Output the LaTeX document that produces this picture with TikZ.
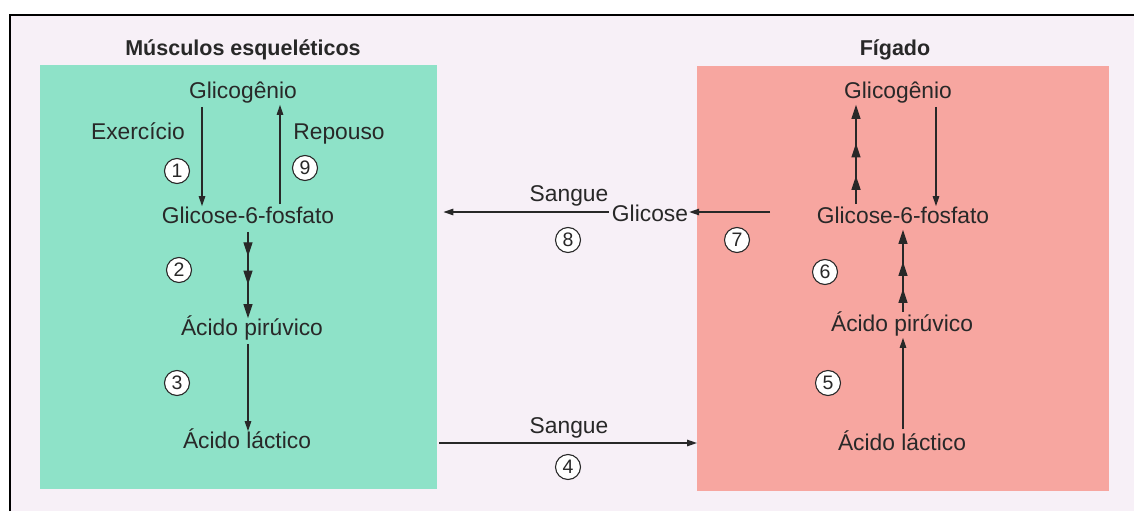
\documentclass[tikz,border=0pt]{standalone}
\usepackage{fontspec}
\setmainfont{Liberation Sans}
\usetikzlibrary{arrows.meta,positioning,decorations.markings}
\definecolor{muscbg}{RGB}{142,226,200}
\definecolor{figbg}{RGB}{247,166,160}
\definecolor{pagebg}{RGB}{247,240,247}
\definecolor{ink}{RGB}{40,40,40}

\begin{document}
\begin{tikzpicture}[x=1pt,y=-1pt,
  txt/.style={inner sep=1pt,text height=16.5pt,text depth=4.8pt,font=\fontsize{22.8}{26}\selectfont,text=ink},
  ttl/.style={inner sep=0pt,font=\fontsize{21.5}{25}\selectfont\bfseries,text=ink},
  num/.style={circle,draw=ink,line width=1.1pt,fill=white,minimum size=25pt,inner sep=0pt,font=\fontsize{19.5}{21}\selectfont,text=ink},
  organ/.style={inner sep=0pt,anchor=north west},
  flow/.style={->,line width=1.3pt,draw=ink,shorten <=2pt},
  tri/.style={flow,>={Triangle[length=14pt,width=9pt]},postaction={decorate},
    decoration={markings,
      mark=at position 0.3 with {\arrow{Triangle[length=14pt,width=9pt]}},
      mark=at position 0.62 with {\arrow{Triangle[length=14pt,width=9pt]}}}},
  >={Triangle[length=10pt,width=6.5pt]}]
\useasboundingbox (0,0) rectangle (1134,511);
\fill[white] (0,0) rectangle (1134,511);
\fill[pagebg] (10,15) rectangle (1134,511);
\draw[line width=2.5pt,black] (10,511) -- (10,15) -- (1134,15);

% organs
\node[organ,fill=muscbg,minimum width=397pt,minimum height=424pt] (musc) at (40,65) {};
\node[organ,fill=figbg,minimum width=412pt,minimum height=425pt] (fig) at (697,66) {};
\node[ttl] (tmusc) at (243,50) {Músculos esqueléticos};
\node[ttl] (tfig) at (895,50) {Fígado};

% muscle side
\node[txt] (gA) at (243,93) {Glicogênio};
\node[txt] (gB) at (248,218) {Glicose-6-fosfato};
\node[txt] (gC) at (252,330) {Ácido pirúvico};
\node[txt] (gD) at (247,443) {Ácido láctico};
\coordinate (xa) at (202,0);
\coordinate (xb) at (280,0);
\coordinate (xl) at (248,0);
\draw[flow] (gA.south -| xa) -- (gB.north -| xa);
\draw[flow] (gB.north -| xb) -- (gA.south -| xb);
\draw[tri] (gB.south -| xl) -- (gC.north -| xl);
\draw[flow] (gC.south -| xl) -- (gD.north -| xl);
\node[txt] (exer) at (138,134) {Exercício};
\node[txt] (rep) at (339,134) {Repouso};
\node[num] (n1) at (177,171) {1};
\node[num] (n9) at (305,168) {9};
\node[num] (n2) at (179,270) {2};
\node[num] (n3) at (177,383) {3};

% liver side
\node[txt] (hA) at (898,93) {Glicogênio};
\node[txt] (hB) at (903,218) {Glicose-6-fosfato};
\node[txt] (hC) at (902,326) {Ácido pirúvico};
\node[txt] (hD) at (902,445) {Ácido láctico};
\coordinate (xc) at (856,0);
\coordinate (xd) at (936,0);
\coordinate (xr) at (903,0);
\draw[tri] (hB.north -| xc) -- (hA.south -| xc);
\draw[flow] (hA.south -| xd) -- (hB.north -| xd);
\draw[tri] (hC.north -| xr) -- (hB.south -| xr);
\draw[flow,shorten <=4pt] (hD.north -| xr) -- (hC.south -| xr);
\node[num] (n6) at (825,272) {6};
\node[num] (n5) at (828,383) {5};

% blood
\node[txt] (glc) at (650,216) {Glicose};
\node[txt] (sg1) at (569,196) {Sangue};
\node[txt] (sg2) at (569,428) {Sangue};
\coordinate (t7) at (772,212);
\coordinate (s4) at (437,443);
\draw[flow] (t7) -- (t7 -| glc.east);
\draw[flow,shorten >=6pt] (t7 -| glc.west) -- (t7 -| musc.east);
\draw[flow] (s4) -- (s4 -| fig.west);
\node[num] (n7) at (737,240) {7};
\node[num] (n8) at (568,240) {8};
\node[num] (n4) at (568,467) {4};
\end{tikzpicture}
\end{document}
